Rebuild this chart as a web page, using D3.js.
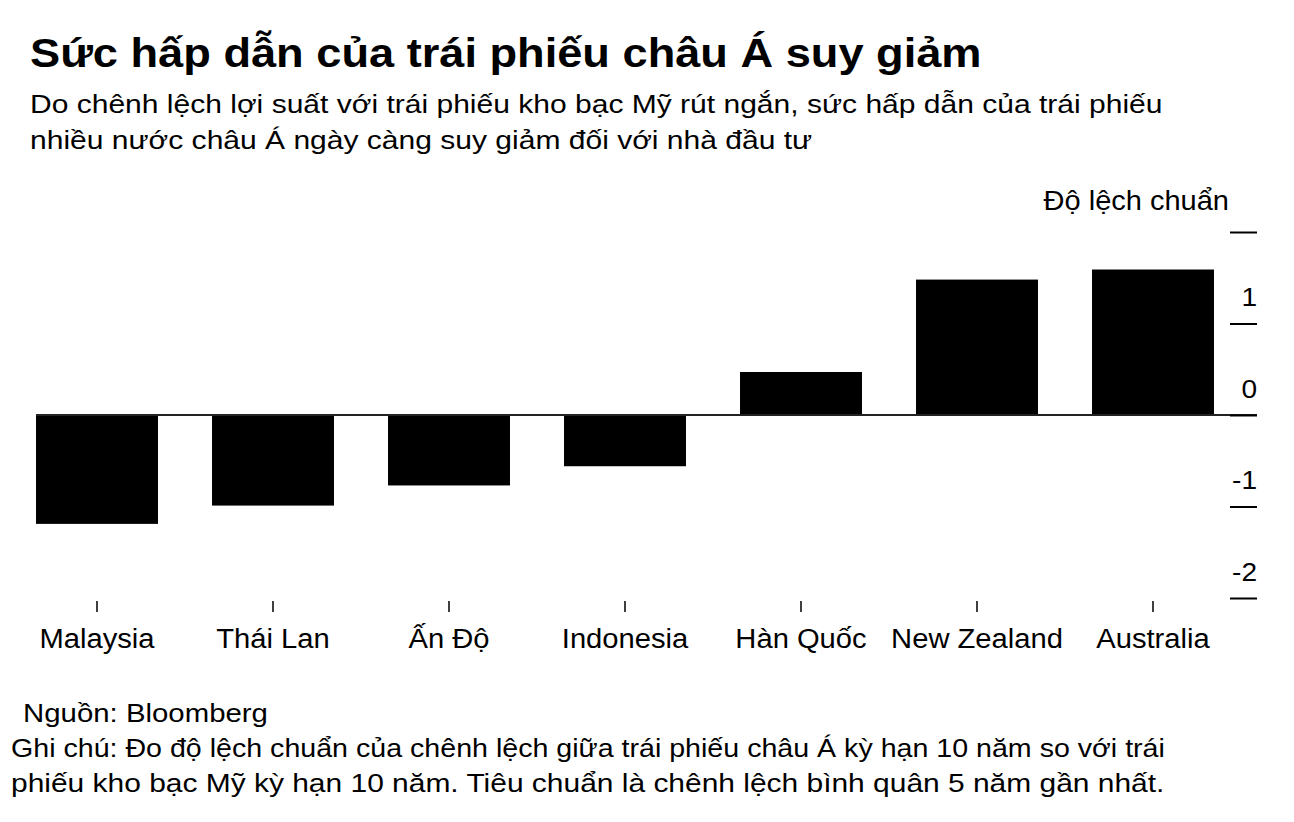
<!DOCTYPE html>
<html>
<head>
<meta charset="utf-8">
<script src="https://cdn.jsdelivr.net/npm/d3@7"></script>
<style>
  body { margin: 0; background: #fff; }
  svg text { font-family: "Liberation Sans", Arial, Helvetica, sans-serif; fill: #000; }
</style>
</head>
<body>
<div id="chart"></div>
<script>
// data
var landen = ["Malaysia", "Thái Lan", "Ấn Độ", "Indonesia", "Hàn Quốc", "New Zealand", "Australia"];
var waarden = [-1.19, -0.99, -0.77, -0.56, 0.47, 1.48, 1.59];
var yTicks = [-2, -1, 0, 1, 2];

var titel = "Sức hấp dẫn của trái phiếu châu Á suy giảm";
var ondertitel = ["Do chênh lệch lợi suất với trái phiếu kho bạc Mỹ rút ngắn, sức hấp dẫn của trái phiếu",
                  "nhiều nước châu Á ngày càng suy giảm đối với nhà đầu tư"];
var eenheid = "Độ lệch chuẩn";
var bron = "Nguồn: Bloomberg";
var noot = ["Ghi chú: Đo độ lệch chuẩn của chênh lệch giữa trái phiếu châu Á kỳ hạn 10 năm so với trái",
            "phiếu kho bạc Mỹ kỳ hạn 10 năm. Tiêu chuẩn là chênh lệch bình quân 5 năm gần nhất."];

var breedte = 1294, hoogte = 822;

var svg = d3.select("#chart").append("svg")
            .attr("width", breedte)
            .attr("height", hoogte);

// tekst iets breder trekken (het origineel is breder gezet)
function tekst(x, y, grootte, rek, inhoud, anker, gewicht) {
  return svg.append("text")
            .attr("transform", "translate(" + x + "," + y + ") scale(" + rek + ",1)")
            .attr("font-size", grootte + "px")
            .attr("font-weight", gewicht || "normal")
            .attr("text-anchor", anker || "start")
            .text(inhoud);
}

// tekst rekken tot een vaste breedte
function tekstBreed(x, y, grootte, doelBreedte, inhoud) {
  var t = tekst(x, y, grootte, 1, inhoud);
  var rek = doelBreedte / t.node().getComputedTextLength();
  t.attr("transform", "translate(" + x + "," + y + ") scale(" + rek + ",1)");
  return t;
}

// titel en ondertitel
tekst(30, 67, 40, 1.13, titel, "start", "bold");
ondertitel.forEach(function(d, i) {
  tekst(30, 113 + i * 36, 26, 1.155, d);
});

// schalen
var x = d3.scaleBand()
          .domain(landen)
          .range([9, 1241])
          .paddingInner(0.307)
          .paddingOuter(0.1535);

var y = d3.scaleLinear()
          .domain([-2, 2])
          .range([598, 232]);

// staven
svg.selectAll(".staaf")
   .data(waarden)
   .enter().append("rect")
   .attr("class", "staaf")
   .attr("x", function(d, i) { return x(landen[i]); })
   .attr("width", x.bandwidth())
   .attr("y", function(d) { return y(Math.max(0, d)); })
   .attr("height", function(d) { return Math.abs(y(d) - y(0)); })
   .attr("fill", "#000");

// nullijn
svg.append("line")
   .attr("x1", x(landen[0])).attr("x2", 1257)
   .attr("y1", y(0)).attr("y2", y(0))
   .attr("stroke", "#222")
   .attr("stroke-width", 2);

// y-as rechts
var asY = d3.axisLeft(y)
            .tickValues(yTicks)
            .tickSize(27)
            .tickFormat(function(d) { return d === 2 ? "" : String(d); });

var gY = svg.append("g")
            .attr("transform", "translate(1257,0)")
            .call(asY);
gY.select(".domain").remove();
gY.selectAll(".tick line").attr("stroke", "#000").attr("stroke-width", 2);
gY.selectAll(".tick text")
  .attr("x", null)
  .attr("dy", null)
  .attr("transform", "translate(0,-18) scale(1.08,1)")
  .attr("font-size", "26px")
  .attr("font-family", "Liberation Sans, Arial, sans-serif")
  .attr("text-anchor", "end");

tekst(1229, 210, 27, 1.075, eenheid, "end");

// x-as
var asX = d3.axisBottom(x).tickSize(11).tickPadding(0);
var gX = svg.append("g")
            .attr("transform", "translate(0,601)")
            .call(asX);
gX.select(".domain").remove();
gX.selectAll(".tick line").attr("stroke", "#000").attr("stroke-width", 1.5);
gX.selectAll(".tick text")
  .attr("y", null)
  .attr("dy", null)
  .attr("transform", "translate(0,47) scale(1.08,1)")
  .attr("font-size", "27px")
  .attr("font-family", "Liberation Sans, Arial, sans-serif");

// bron en noot
tekst(23, 722, 26, 1.13, bron);
noot.forEach(function(d, i) {
  tekstBreed(11, 757 + i * 35, 26, 1154, d);
});
</script>
</body>
</html>
